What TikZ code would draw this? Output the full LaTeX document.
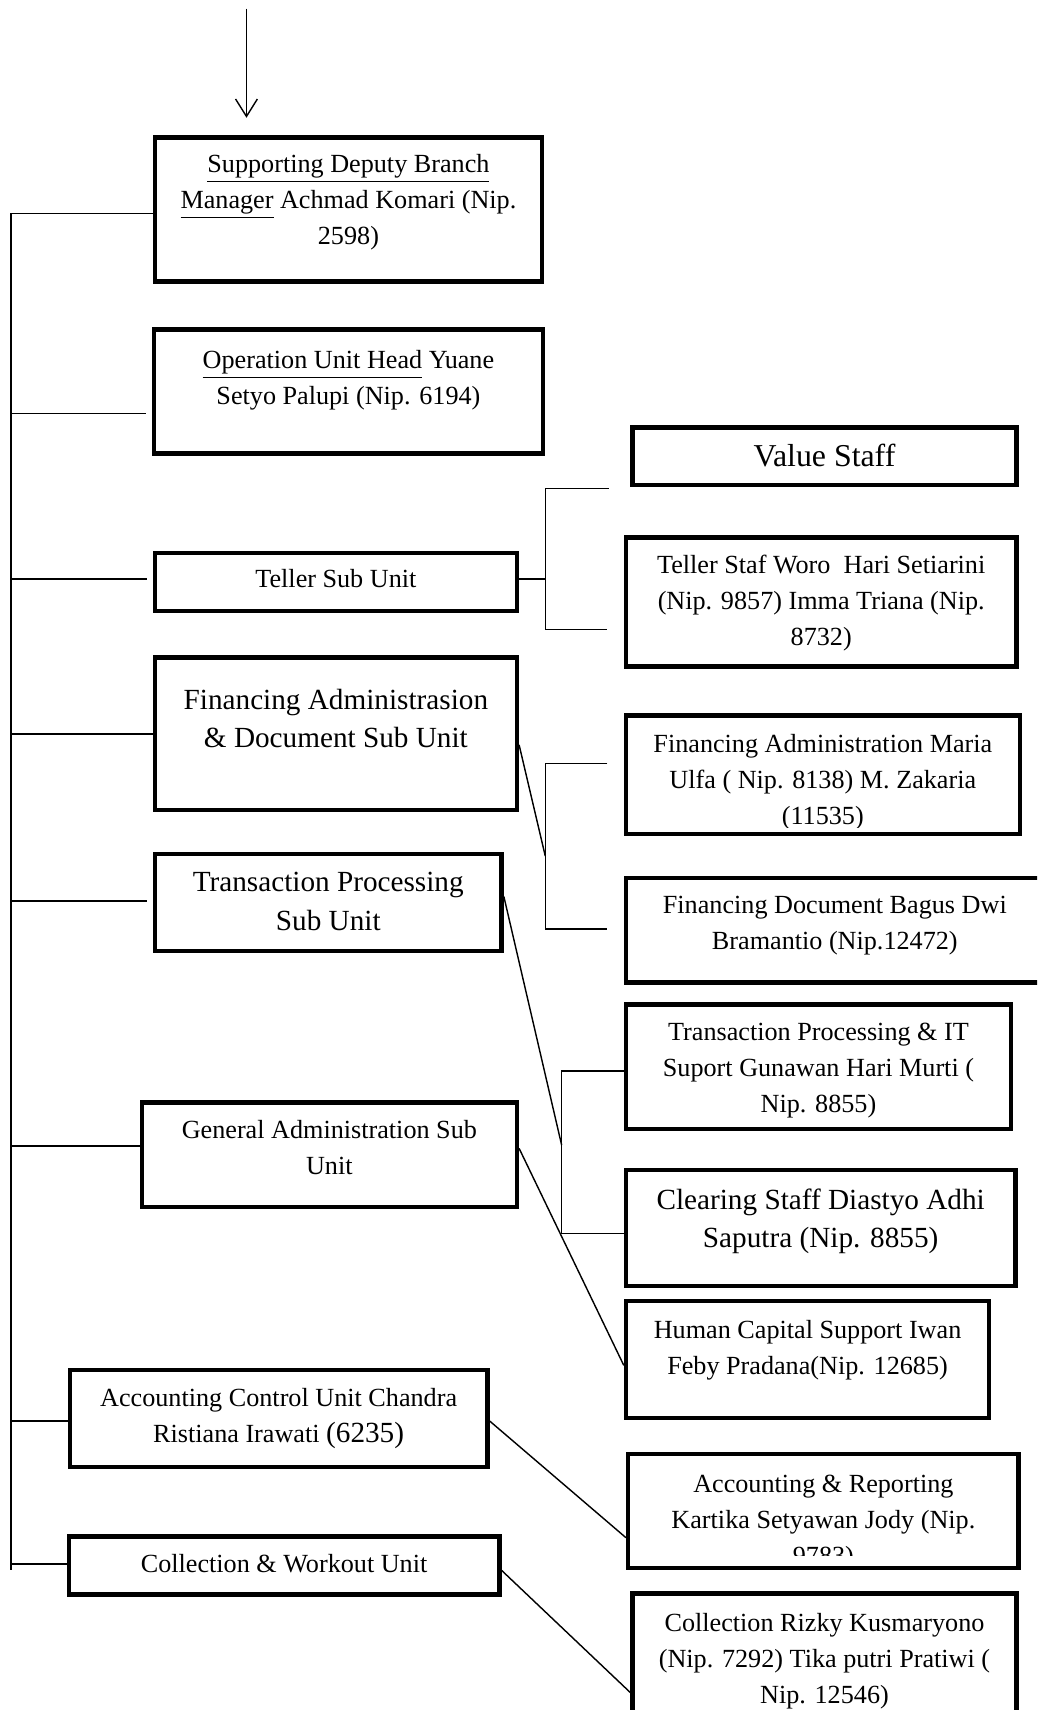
\documentclass[tikz,border=0pt]{standalone}
\usepackage{fontspec}
\setmainfont{Liberation Serif}
\usetikzlibrary{arrows.meta,calc,fit}
\begin{document}
\begin{tikzpicture}[x=0.5pt,y=-0.5pt,
  box/.style={draw, line width=2pt, inner sep=0pt},
  txt/.style={font=\fontsize{12}{16.5}\selectfont, align=center, inner sep=0pt, anchor=north},
  big/.style={font=\fontsize{13.4}{17.6}\selectfont, align=center, inner sep=0pt, anchor=north},
  conn/.style={line width=0.65pt},
  gap/.style={shorten >=2.5pt},
]
\clip (0,0) rectangle (951,1568);
\fill[white] (0,0) rectangle (951,1568);

% boxes
\node[box, fit={(142,126) (497,258)}] (b1) {};
\node[box, fit={(141,302) (498,416)}] (b2) {};
\node[box, fit={(580,392) (932,445)}] (vs) {};
\node[box, fit={(142,507) (474,560)}] (ts) {};
\node[box, fit={(574,493) (932,611)}] (tstaf) {};
\node[box, fit={(142,603) (474,743)}] (fads) {};
\node[box, fit={(574,656) (935,765)}] (fa) {};
\node[box, fit={(574,805) (957,901)}] (fd) {};
\node[box, fit={(142,783) (460,872)}] (tps) {};
\node[box, fit={(574,921) (927,1035)}] (tpit) {};
\node[box, fit={(130,1011) (474,1107)}] (ga) {};
\node[box, fit={(574,1073) (931,1179)}] (cs) {};
\node[box, fit={(574,1193) (907,1300)}] (hc) {};
\node[box, fit={(64,1256) (447,1345)}] (acu) {};
\node[box, fit={(576,1333) (934,1438)}] (ar) {};
\node[box, fit={(63,1409) (458,1462)}] (cwu) {};
\node[box, fit={(580,1461) (932,1640)}] (cr) {};

% texts
\node[txt] (b1t) at ($(b1.north)+(0,17)$) {\underline{Supporting Deputy Branch}\\ \underline{Manager} Achmad Komari (Nip.\\ 2598)};
\node[txt] (b2t) at ($(b2.north)+(0,21)$) {\underline{Operation Unit Head} Yuane\\ Setyo Palupi (Nip. 6194)};
\node[txt, font=\fontsize{14.6}{17.6}\selectfont] (vst) at ($(vs.north)+(0,17)$) {Value Staff};
\node[txt] (tst) at ($(ts.north)+(0,17)$) {Teller Sub Unit};
\node[txt] (tstaft) at ($(tstaf.north)+(0,18)$) {Teller Staf Woro\ \ Hari Setiarini\\ (Nip. 9857) Imma Triana (Nip.\\ 8732)};
\node[big] (fadst) at ($(fads.north)+(0,30.5)$) {Financing Administrasion\\ \& Document Sub Unit};
\begin{scope}
  \clip (fa.north west) rectangle ($(fa.south east)+(0,-8)$);
  \node[txt] (fat) at ($(fa.north)+(0,19)$) {Financing Administration Maria\\ Ulfa ( Nip. 8138) M. Zakaria\\ (11535)};
\end{scope}
\node[txt] (fdt) at ($(fd.north)+(0,18)$) {Financing Document Bagus Dwi\\ Bramantio (Nip.12472)};
\node[big] (tpst) at ($(tps.north)+(0,18.5)$) {Transaction Processing\\ Sub Unit};
\node[txt] (tpitt) at ($(tpit.north)+(0,19)$) {Transaction Processing \& IT\\ Suport Gunawan Hari Murti (\\ Nip. 8855)};
\node[txt] (gat) at ($(ga.north)+(0,18)$) {General Administration Sub\\ Unit};
\node[big] (cst) at ($(cs.north)+(0,18.5)$) {Clearing Staff Diastyo Adhi\\ Saputra (Nip. 8855)};
\node[txt] (hct) at ($(hc.north)+(0,19)$) {Human Capital Support Iwan\\ Feby Pradana(Nip. 12685)};
\node[txt] (acut) at ($(acu.north)+(0,19)$) {Accounting Control Unit Chandra\\ Ristiana Irawati {\fontsize{13.4}{16.5}\selectfont (6235)}};
\begin{scope}
  \clip (ar.north west) rectangle ($(ar.south east)+(0,-14)$);
  \node[txt] (art) at ($(ar.north)+(0,21)$) {Accounting \& Reporting\\ Kartika Setyawan Jody (Nip.\\ 9783)};
\end{scope}
\node[txt] (cwut) at ($(cwu.north)+(0,18)$) {Collection \& Workout Unit};
\node[txt] (crt) at ($(cr.north)+(0,20)$) {Collection Rizky Kusmaryono\\ (Nip. 7292) Tika putri Pratiwi (\\ Nip. 12546)};

% top arrow
\coordinate (atop) at (226,8);
\coordinate (abot) at (226,108);
\draw[conn, -{Straight Barb[length=8pt,width=10pt]}] (atop) -- (abot);

% spine
\coordinate (sb1) at (10,196);
\coordinate (sBot) at (10,1440);
\draw[conn] (sb1 -| b1.west) -- (sb1) -- (sBot);
\foreach \n/\y in {fads/673, ga/1051, acu/1303, cwu/1434} {
  \coordinate (s\n) at (10,\y);
  \draw[conn] (s\n) -- (s\n -| \n.west);
}
\foreach \n/\y in {b2/379, ts/531, tps/826} {
  \coordinate (s\n) at (10,\y);
  \draw[conn, gap] (s\n) -- (s\n -| \n.west);
}

% teller bracket
\coordinate (tv1) at (500,448);
\coordinate (tv2) at (500,577);
\coordinate (te1) at (558,448);
\coordinate (te2) at (557,577);
\coordinate (tj) at (500,531);
\draw[conn] (te1) -- (tv1) -- (tv2) -- (te2);
\draw[conn] (tj -| ts.east) -- (tj);

% financing bracket
\coordinate (fv1) at (500,700);
\coordinate (fv2) at (500,852);
\coordinate (fe1) at (557,700);
\coordinate (fe2) at (557,852);
\coordinate (fj) at (500,785);
\coordinate (fs) at (474,683);
\draw[conn] (fe1) -- (fv1) -- (fv2) -- (fe2);
\draw[conn] (fs -| fads.east) -- (fj);

% transaction bracket
\coordinate (pv1) at (515,982);
\coordinate (pv2) at (515,1131);
\coordinate (pj) at (515,1050);
\coordinate (ps) at (460,822);
\draw[conn] (pv1 -| tpit.west) -- (pv1) -- (pv2) -- (pv2 -| cs.west);
\draw[conn] (ps -| tps.east) -- (pj);

% diagonal links
\coordinate (gs) at (474,1053);
\coordinate (ge) at (574,1252);
\draw[conn] (gs -| ga.east) -- (ge -| hc.west);
\coordinate (as) at (447,1303);
\coordinate (ae) at (576,1410);
\draw[conn] (as -| acu.east) -- (ae -| ar.west);
\coordinate (cs1) at (458,1440);
\coordinate (ce) at (580,1552);
\draw[conn] (cs1 -| cwu.east) -- (ce -| cr.west);
\end{tikzpicture}
\end{document}
